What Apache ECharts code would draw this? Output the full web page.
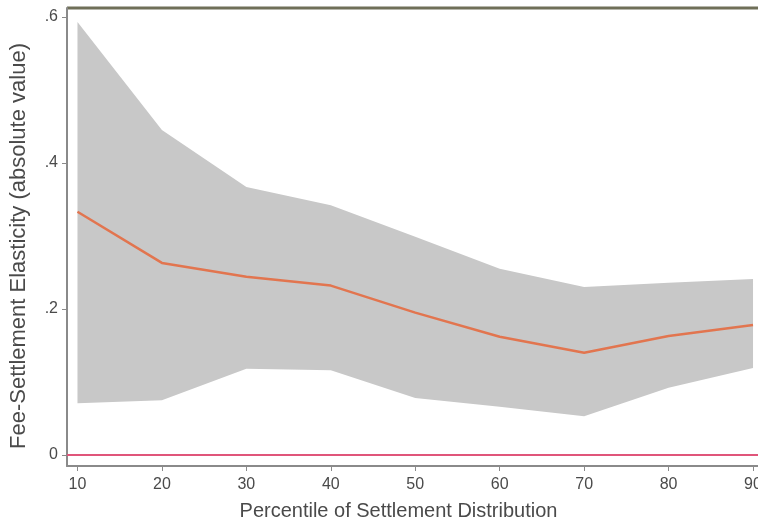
<!DOCTYPE html>
<html>
<head>
<meta charset="utf-8">
<script src="https://cdn.jsdelivr.net/npm/echarts@6/dist/echarts.min.js"></script>
<style>html,body{margin:0;padding:0;background:#fff}#c{width:758px;height:524px}</style>
</head>
<body>
<div id="c"></div>
<script>
var percentiles = [10, 20, 30, 40, 50, 60, 70, 80, 90];
var estimate = [0.333, 0.263, 0.244, 0.232, 0.195, 0.162, 0.140, 0.163, 0.178];
var upperCI  = [0.593, 0.445, 0.367, 0.342, 0.299, 0.255, 0.230, 0.236, 0.241];
var lowerCI  = [0.071, 0.075, 0.118, 0.116, 0.078, 0.066, 0.053, 0.092, 0.119];
var yTicks = [0, 0.2, 0.4, 0.6];
var yTickLabels = ['0', '.2', '.4', '.6'];
var xTicks = [10, 20, 30, 40, 50, 60, 70, 80, 90];

var chart = echarts.init(document.getElementById('c'), null, {renderer: 'canvas'});
var font = 'Liberation Sans, Arial, sans-serif';
var bandData = percentiles.map(function (p, i) { return [p, lowerCI[i], upperCI[i]]; });

chart.setOption({
  animation: false,
  backgroundColor: '#ffffff',
  grid: {left: 67, right: 0, top: 8, bottom: 58, containLabel: false, outerBoundsMode: 'none', show: false},
  xAxis: {
    type: 'value', min: 8.76, max: 90.59,
    splitLine: {show: false},
    axisLine: {show: true, onZero: false, lineStyle: {color: '#8a8a8a', width: 2}},
    axisTick: {show: true, length: 5, customValues: xTicks, lineStyle: {color: '#8a8a8a'}},
    axisLabel: {customValues: xTicks, color: '#4a4a4a', fontSize: 16, fontFamily: font, margin: 11},
    name: 'Percentile of Settlement Distribution', nameLocation: 'middle', nameGap: 35,
    nameTextStyle: {color: '#4a4a4a', fontSize: 20, fontFamily: font, padding: [0, 28, 0, 0]}
  },
  yAxis: {
    type: 'value', min: -0.015, max: 0.612,
    splitLine: {show: false},
    axisLine: {show: true, onZero: false, lineStyle: {color: '#8a8a8a', width: 2}},
    axisTick: {show: true, length: 5, customValues: yTicks, lineStyle: {color: '#8a8a8a'}},
    axisLabel: {customValues: yTicks, color: '#4a4a4a', fontSize: 16, fontFamily: font, margin: 9,
      formatter: function (v) { var i = yTicks.indexOf(Math.round(v * 10) / 10); return i >= 0 ? yTickLabels[i] : ''; }},
    name: 'Fee-Settlement Elasticity (absolute value)', nameLocation: 'middle', nameGap: 37, nameRotate: 90,
    nameTextStyle: {color: '#4a4a4a', fontSize: 22, fontFamily: font, padding: [0, 18, 0, 0]}
  },
  series: [
    {
      type: 'custom', silent: true, z: 1,
      data: bandData,
      encode: {x: 0, y: [1, 2]},
      renderItem: function (params, api) {
        if (params.dataIndex !== 0) return null;
        var pts = [];
        for (var i = 0; i < bandData.length; i++) pts.push(api.coord([bandData[i][0], bandData[i][2]]));
        for (var j = bandData.length - 1; j >= 0; j--) pts.push(api.coord([bandData[j][0], bandData[j][1]]));
        return {type: 'polygon', shape: {points: pts}, style: {fill: '#c8c8c8', stroke: null}};
      }
    },
    {
      type: 'line', symbol: 'none', z: 3,
      data: percentiles.map(function (p, i) { return [p, estimate[i]]; }),
      lineStyle: {color: '#e2754f', width: 2.5},
      markLine: {
        silent: true, symbol: 'none', label: {show: false},
        lineStyle: {color: '#e0557a', width: 2, type: 'solid'},
        data: [{yAxis: 0}]
      }
    }
  ],
  graphic: [{
    type: 'line', shape: {x1: 67, y1: 8, x2: 758, y2: 8},
    style: {stroke: '#6f6f58', lineWidth: 3}
  }]
});
</script>
</body>
</html>
